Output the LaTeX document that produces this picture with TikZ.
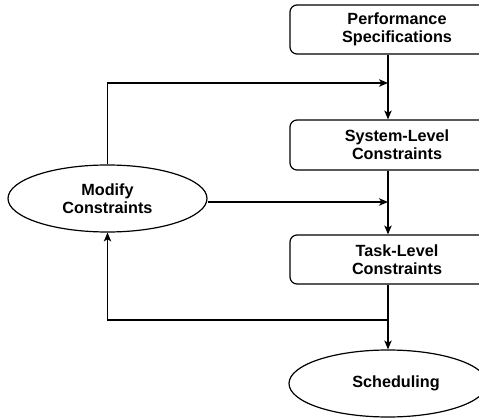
\documentclass[tikz,border=0pt]{standalone}
\usepackage{fontspec}
\setmainfont{Liberation Sans}
\usetikzlibrary{arrows.meta,shapes.geometric}
\begin{document}
\begin{tikzpicture}[x=1pt,y=-1pt,
  lbl/.style={font=\fontsize{16.2}{18.3}\selectfont\bfseries, align=center, inner sep=0pt},
  stepbox/.style={lbl, draw, line width=1.2pt, rounded corners=7pt, minimum width=214pt},
  oval/.style={lbl, draw, line width=1.2pt, ellipse, minimum height=67pt},
  arr/.style={line width=1.2pt, -{Stealth[length=9pt,width=7.5pt,inset=2.5pt]}},
  ln/.style={line width=1.2pt}]
\useasboundingbox (0,0) rectangle (479,419);
\node[stepbox, minimum height=49pt] (perf) at (397,29.5) {Performance\\Specifications};
\node[stepbox, minimum height=50pt] (sys) at (397,145) {System-Level\\Constraints};
\node[stepbox, minimum height=49pt] (task) at (397,259.5) {Task-Level\\Constraints};
\node[oval, minimum width=199pt] (modify) at (107.5,198.5) {Modify\\Constraints};
\node[oval, minimum width=198pt] (sched) at (388,383.5) {\hspace*{16pt}Scheduling};
\coordinate (col) at (388,0);
\coordinate (top) at (388,83);
\coordinate (mid) at (388,202);
\coordinate (jn) at (388,320);
\draw[arr] (perf.south -| col) -- (sys.north -| col);
\draw[arr] (sys.south -| col) -- (task.north -| col);
\draw[arr] (task.south -| col) -- (sched.north);
\draw[arr] (modify.north) |- (top);
\draw[arr] (mid -| modify.east) -- (mid);
\draw[arr] (jn) -| (modify.south);
\end{tikzpicture}
\end{document}
